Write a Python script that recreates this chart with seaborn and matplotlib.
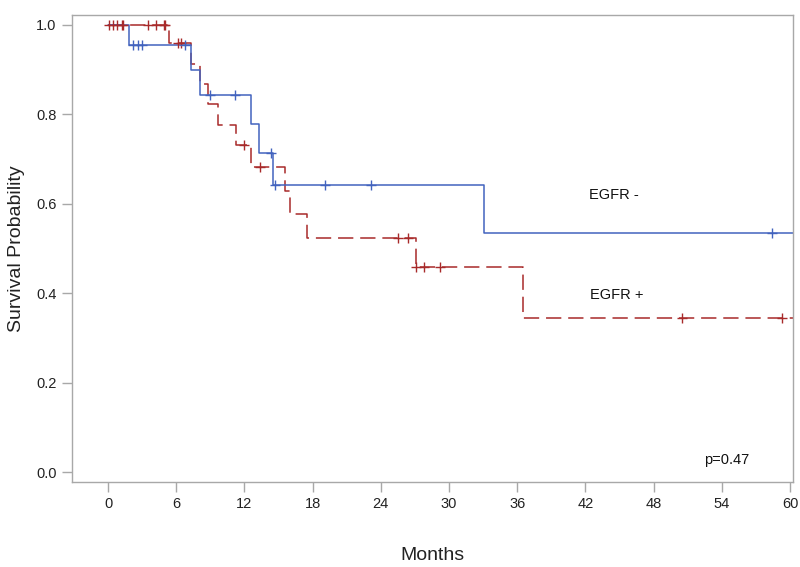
import matplotlib
matplotlib.use('Agg')
import matplotlib.pyplot as plt
import numpy as np
import pandas as pd
import seaborn as sns

# Kaplan-Meier steps (months, survival probability)
neg_times = [0, 1.87, 7.3, 8.1, 12.6, 13.3, 14.5, 33.1, 61]
neg_surv = [1.0, 0.9545, 0.898, 0.842, 0.777, 0.712, 0.641, 0.534, 0.534]
neg_censor = [2.2, 2.6, 3.0, 6.8, 9.0, 11.2, 14.3, 14.7, 19.1, 23.1, 58.4]

pos_times = [0, 5.4, 7.3, 8.1, 8.8, 9.7, 11.3, 12.6, 15.6, 16.0, 17.5, 27.1, 36.5, 61]
pos_surv = [1.0, 0.958, 0.913, 0.867, 0.822, 0.776, 0.730, 0.681, 0.629, 0.576, 0.524, 0.458, 0.344, 0.344]
pos_censor = [0.1, 0.4, 0.8, 1.2, 1.3, 3.5, 4.2, 4.9, 5.0, 6.2, 6.4, 12.0, 13.4,
              25.5, 26.4, 27.1, 27.8, 29.2, 50.5, 59.3]

groups = ['EGFR +', 'EGFR -']
colors = {'EGFR -': '#4263BE', 'EGFR +': '#A82A2A'}
x_ticks = [0, 6, 12, 18, 24, 30, 36, 42, 48, 54, 60]
y_ticks = [0.0, 0.2, 0.4, 0.6, 0.8, 1.0]
p_text = 'p=0.47'


def step_value(t, times, surv):
    idx = np.searchsorted(times, t, side='right') - 1
    return surv[idx]


curves = pd.concat([
    pd.DataFrame({'Months': neg_times, 'Survival': neg_surv, 'Group': 'EGFR -'}),
    pd.DataFrame({'Months': pos_times, 'Survival': pos_surv, 'Group': 'EGFR +'}),
], ignore_index=True)

censors = pd.concat([
    pd.DataFrame({'Months': neg_censor,
                  'Survival': [step_value(t, neg_times, neg_surv) for t in neg_censor],
                  'Group': 'EGFR -'}),
    pd.DataFrame({'Months': pos_censor,
                  'Survival': [step_value(t, pos_times, pos_surv) for t in pos_censor],
                  'Group': 'EGFR +'}),
], ignore_index=True)

sns.set_theme(style='ticks')
plt.rcParams['font.family'] = ['Liberation Sans', 'DejaVu Sans']

fig = plt.figure(figsize=(8, 5.67), dpi=100)
ax = fig.add_axes([0.09, 0.15, 0.901, 0.824])

sns.lineplot(data=curves, x='Months', y='Survival', hue='Group', style='Group',
             hue_order=groups, style_order=groups, palette=colors,
             dashes={'EGFR -': '', 'EGFR +': (10, 4.5)},
             drawstyle='steps-post', estimator=None, sort=False,
             linewidth=1.1, legend=False, ax=ax)

# censored observations
for g in groups:
    sub = censors[censors['Group'] == g]
    ax.plot(sub['Months'], sub['Survival'], linestyle='none', marker='+',
            markersize=6.5, markeredgewidth=1.0, color=colors[g])

ax.text(42.3, 0.62, 'EGFR -', fontsize=10.5, va='center', color='#111111')
ax.text(42.4, 0.395, 'EGFR +', fontsize=10.5, va='center', color='#111111')
ax.text(52.4, 0.028, p_text, fontsize=10.5, va='center', color='#111111')

ax.set_xlim(-3.17, 60.25)
ax.set_ylim(-0.022, 1.022)
ax.set_xticks(x_ticks)
ax.set_yticks(y_ticks)
ax.set_yticklabels([f'{v:.1f}' for v in y_ticks])
ax.set_xlabel('Months', fontsize=14, color='#222222', labelpad=26)
ax.set_ylabel('Survival Probability', fontsize=14, color='#222222', labelpad=8)

for s in ax.spines.values():
    s.set_color('#A8A8A8')
    s.set_linewidth(1.0)
ax.tick_params(axis='both', colors='#A8A8A8', labelcolor='#222222',
               labelsize=10.5, length=7, width=1.0, pad=4)

fig.savefig('out.png', dpi=100)
